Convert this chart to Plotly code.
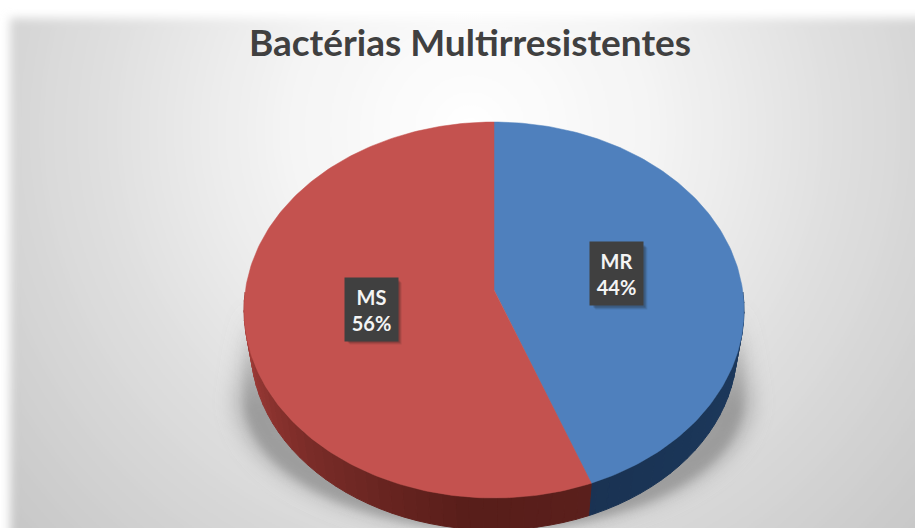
import base64
import math
import plotly.graph_objects as go

TITLE = "Bactérias Multirresistentes"
CATEGORIES = ["MR", "MS"]
VALUES = [44, 56]
TOP_COLORS = ["#4f80bd", "#c4524f"]

W, H = 915, 528
CX, CY, RX, RY = 494, 310, 250, 188
BCX, BCY, BRX, BRY = 494, 348, 243, 182
APEX_Y = 290      # pie centre as seen in perspective
WARP = 0.06       # perspective foreshortening of rim angles
N_ARC = 3         # degrees per arc step


def warped(a):
    r = math.radians(a)
    s, c = math.sin(r), math.cos(r)
    d = 1 + WARP * c
    return s * math.sqrt(1 - WARP ** 2) / d, (c + WARP) / d


def top_pt(a):
    s, c = warped(a)
    return CX + RX * s, CY - RY * c


def bot_pt(a):
    s, c = warped(a)
    return BCX + BRX * s, BCY - BRY * c


def lerp_color(stops, t):
    for (t0, c0), (t1, c1) in zip(stops, stops[1:]):
        if t <= t1:
            f = max(0, (t - t0) / (t1 - t0))
            return "rgb(%d,%d,%d)" % tuple(c0[i] + (c1[i] - c0[i]) * f for i in range(3))
    return "rgb(%d,%d,%d)" % stops[-1][1]


RED_SIDE = [(150, (92, 32, 29)), (185, (88, 30, 26)), (225, (122, 44, 40)), (262, (160, 60, 56)), (300, (165, 62, 58))]
BLUE_SIDE = [(90, (30, 58, 94)), (130, (27, 54, 88)), (165, (26, 50, 82))]

bg_svg = f'''<svg xmlns="http://www.w3.org/2000/svg" width="{W}" height="{H}" viewBox="0 0 {W} {H}">
<defs>
<radialGradient id="g" gradientUnits="userSpaceOnUse" cx="470" cy="130" r="620">
<stop offset="0" stop-color="#ffffff"/><stop offset="0.3" stop-color="#f4f4f4"/><stop offset="0.55" stop-color="#e2e2e2"/><stop offset="0.8" stop-color="#d2d2d2"/><stop offset="1" stop-color="#c6c6c6"/>
</radialGradient>
<linearGradient id="s" gradientUnits="userSpaceOnUse" x1="0" y1="305" x2="0" y2="528">
<stop offset="0" stop-color="#8c8c8c" stop-opacity="0"/><stop offset="0.4" stop-color="#8c8c8c" stop-opacity="0.42"/><stop offset="1" stop-color="#8c8c8c" stop-opacity="0.3"/>
</linearGradient>
<linearGradient id="s2" gradientUnits="userSpaceOnUse" x1="0" y1="330" x2="0" y2="528">
<stop offset="0" stop-color="#808080" stop-opacity="0"/><stop offset="0.4" stop-color="#808080" stop-opacity="0.55"/><stop offset="1" stop-color="#808080" stop-opacity="0.55"/>
</linearGradient>
<filter id="b1" x="-10%" y="-10%" width="120%" height="120%"><feGaussianBlur stdDeviation="5"/></filter>
<filter id="b2" x="-20%" y="-20%" width="140%" height="140%"><feGaussianBlur stdDeviation="9"/></filter>
<filter id="b3" x="-20%" y="-20%" width="140%" height="140%"><feGaussianBlur stdDeviation="5"/></filter>
</defs>
<rect width="{W}" height="{H}" fill="#ffffff"/>
<rect x="10" y="18" width="{W + 40}" height="{H + 40}" fill="url(#g)" filter="url(#b1)"/>
<path d="M 243 305 L 232 400 A 262 135 0 0 0 756 400 L 745 305 Z" fill="url(#s)" filter="url(#b2)"/>
<path d="M 244 330 L 244 400 A 250 130 0 0 0 744 400 L 744 330 Z" fill="url(#s2)" filter="url(#b3)"/>
</svg>'''
bg_uri = "data:image/svg+xml;base64," + base64.b64encode(bg_svg.encode()).decode()

fig = go.Figure()

# slice angle extents, derived from the values
total = sum(VALUES)
extents = []
start = 0.0
for v in VALUES:
    end = start + 360.0 * v / total
    extents.append((start, end))
    start = end

# side walls (only the front half is visible)
for (a0, a1), stops in zip(extents, (BLUE_SIDE, RED_SIDE)):
    lo, hi = max(a0, 88), min(a1, 272)
    a = lo
    while a < hi:
        b = min(a + N_ARC, hi)
        pts = [top_pt(a), top_pt(b), bot_pt(b), bot_pt(a)]
        col = lerp_color(stops, (a + b) / 2)
        fig.add_trace(go.Scatter(
            x=[p[0] for p in pts] + [pts[0][0]], y=[p[1] for p in pts] + [pts[0][1]],
            mode="lines", fill="toself", fillcolor=col, line=dict(color=col, width=1),
            hoverinfo="skip", showlegend=False))
        a = b

# top face slices
for (a0, a1), cat, col in zip(extents, CATEGORIES, TOP_COLORS):
    steps = int((a1 - a0) / 1.0) + 1
    arc = [top_pt(a0 + (a1 - a0) * i / steps) for i in range(steps + 1)]
    xs = [CX] + [p[0] for p in arc] + [CX]
    ys = [APEX_Y] + [p[1] for p in arc] + [APEX_Y]
    fig.add_trace(go.Scatter(x=xs, y=ys, mode="lines", fill="toself", fillcolor=col,
                             line=dict(color=col, width=0.5), name=cat, hoverinfo="name", showlegend=False))

# data labels at mid-angle of each slice
BOX_W, BOX_H = 51, 61
shapes, annotations = [], []
for (a0, a1), cat, v in zip(extents, CATEGORIES, VALUES):
    mid = math.radians((a0 + a1) / 2)
    lx = CX + 0.5 * RX * math.sin(mid)
    ly = CY - 18.5 - 0.5 * RY * math.cos(mid)
    for off, op in ((5, 0.10), (4, 0.14), (3, 0.18)):
        shapes.append(dict(type="rect", xref="x", yref="y", line=dict(width=0),
                           x0=lx - BOX_W / 2 + off - 1, x1=lx + BOX_W / 2 + off,
                           y0=ly - BOX_H / 2 + off - 1, y1=ly + BOX_H / 2 + off,
                           fillcolor=f"rgba(30,30,30,{op})", layer="above"))
    annotations.append(dict(x=lx, y=ly, xref="x", yref="y", showarrow=False,
                            text=f"<b>{cat}<br>{v}%</b>", width=BOX_W, height=BOX_H, valign="middle",
                            bgcolor="#404040", font=dict(family="Lato", size=20, color="#f4f4f4")))

fig.update_layout(
    width=W, height=H, margin=dict(l=0, r=0, t=0, b=0),
    paper_bgcolor="white", plot_bgcolor="rgba(0,0,0,0)", showlegend=False,
    title=dict(text=f"<b>{TITLE}</b>", x=470 / W, xanchor="center", y=1 - 43 / H, yanchor="middle",
               font=dict(family="Lato", size=37, color="#404040")),
    xaxis=dict(range=[0, W], visible=False, fixedrange=True),
    yaxis=dict(range=[H, 0], visible=False, fixedrange=True),
    shapes=shapes, annotations=annotations,
    images=[dict(source=bg_uri, xref="paper", yref="paper", x=0, y=1, sizex=1, sizey=1,
                 xanchor="left", yanchor="top", sizing="stretch", layer="below")],
)

fig.write_html("out.html", config={"displayModeBar": False},
               post_script="document.body.style.margin='0';document.body.style.overflow='hidden';")
